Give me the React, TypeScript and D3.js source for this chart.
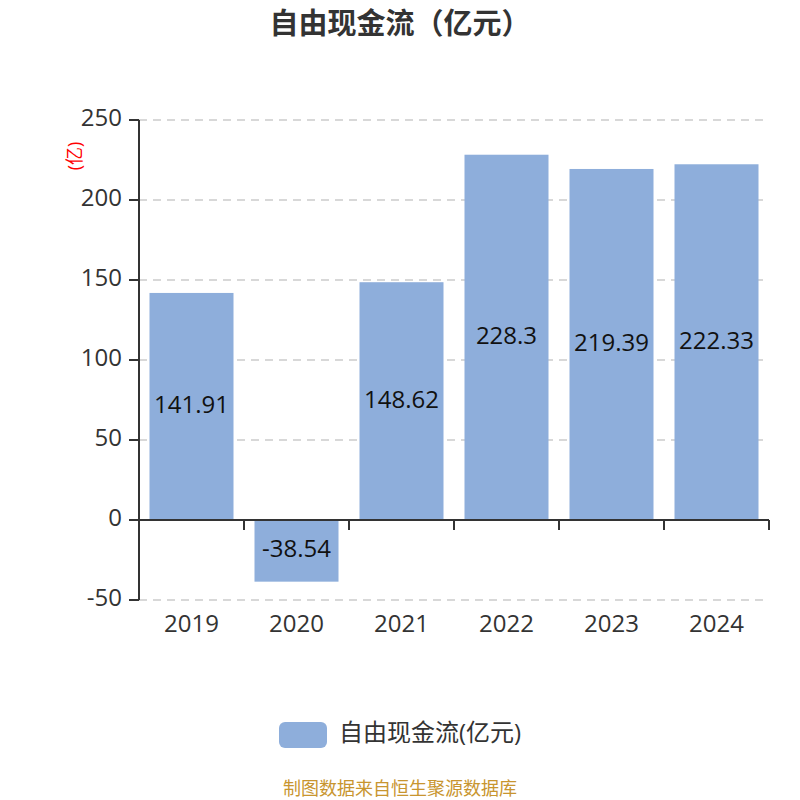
import React from "react";
import * as d3 from "d3";

const years = ["2019", "2020", "2021", "2022", "2023", "2024"];
const values = [141.91, -38.54, 148.62, 228.3, 219.39, 222.33];
const yTicks = [-50, 0, 50, 100, 150, 200, 250];
const title = "自由现金流（亿元）";
const seriesName = "自由现金流(亿元)";
const unitLabel = "(亿)";
const footer = "制图数据来自恒生聚源数据库";

const FONT = "'Open Sans', 'Noto Sans CJK SC', sans-serif";

export default function App() {
  const left = 139, right = 769, top = 120, bottom = 600;
  const x = d3.scaleBand<string>().domain(years).range([left, right]).paddingInner(0.2).paddingOuter(0.1);
  const y = d3.scaleLinear().domain([-50, 250]).range([bottom, top]);
  const bandOuter = d3.scaleBand<string>().domain(years).range([left, right]);
  const y0 = y(0);
  return (
    <svg width={800} height={800} style={{ position: "absolute", left: 0, top: 0, background: "#fff" }} fontFamily={FONT}>
      <text x={400} y={34} textAnchor="middle" fontSize={29} fontWeight="bold" fill="#333">{title}</text>
      {yTicks.map((t) => (
        <g key={t}>
          <line x1={left} x2={right} y1={y(t)} y2={y(t)} stroke="#ccc" strokeDasharray="8,6" strokeWidth={1.5} />
          <line x1={left - 10} x2={left} y1={y(t)} y2={y(t)} stroke="#333" strokeWidth={2} />
          <text x={left - 17} y={y(t)} textAnchor="end" dominantBaseline="middle" fontSize={24} fill="#333">{t}</text>
        </g>
      ))}
      <text transform={`translate(76, ${156}) rotate(-90)`} textAnchor="middle" dominantBaseline="middle" fontSize={18} fill="red">{unitLabel}</text>
      {years.map((yr, i) => {
        const v = values[i];
        const yTop = y(Math.max(0, v));
        const yBot = y(Math.min(0, v));
        const bx = x(yr)!;
        return (
          <g key={yr}>
            <rect x={bx} y={yTop} width={x.bandwidth()} height={yBot - yTop} fill="#8eaedb" />
            <text x={bx + x.bandwidth() / 2} y={(yTop + yBot) / 2} textAnchor="middle" dominantBaseline="middle" fontSize={24} fill="#111">{v}</text>
            <text x={bandOuter(yr)! + bandOuter.bandwidth() / 2} y={626} textAnchor="middle" dominantBaseline="middle" fontSize={24} fill="#333">{yr}</text>
          </g>
        );
      })}
      <line x1={left} x2={left} y1={top} y2={bottom} stroke="#333" strokeWidth={2} />
      <line x1={left} x2={right} y1={y0} y2={y0} stroke="#333" strokeWidth={2} />
      {years.map((yr) => (
        <line key={"t" + yr} x1={bandOuter(yr)! + bandOuter.bandwidth()} x2={bandOuter(yr)! + bandOuter.bandwidth()} y1={y0} y2={y0 + 10} stroke="#333" strokeWidth={2} />
      ))}
      <rect x={279} y={722} width={48} height={26} rx={6} fill="#8eaedb" />
      <text x={339} y={735} dominantBaseline="middle" fontSize={24} fill="#333">{seriesName}</text>
      <text x={400} y={790} textAnchor="middle" dominantBaseline="middle" fontSize={18} fill="#c8952f">{footer}</text>
    </svg>
  );
}
